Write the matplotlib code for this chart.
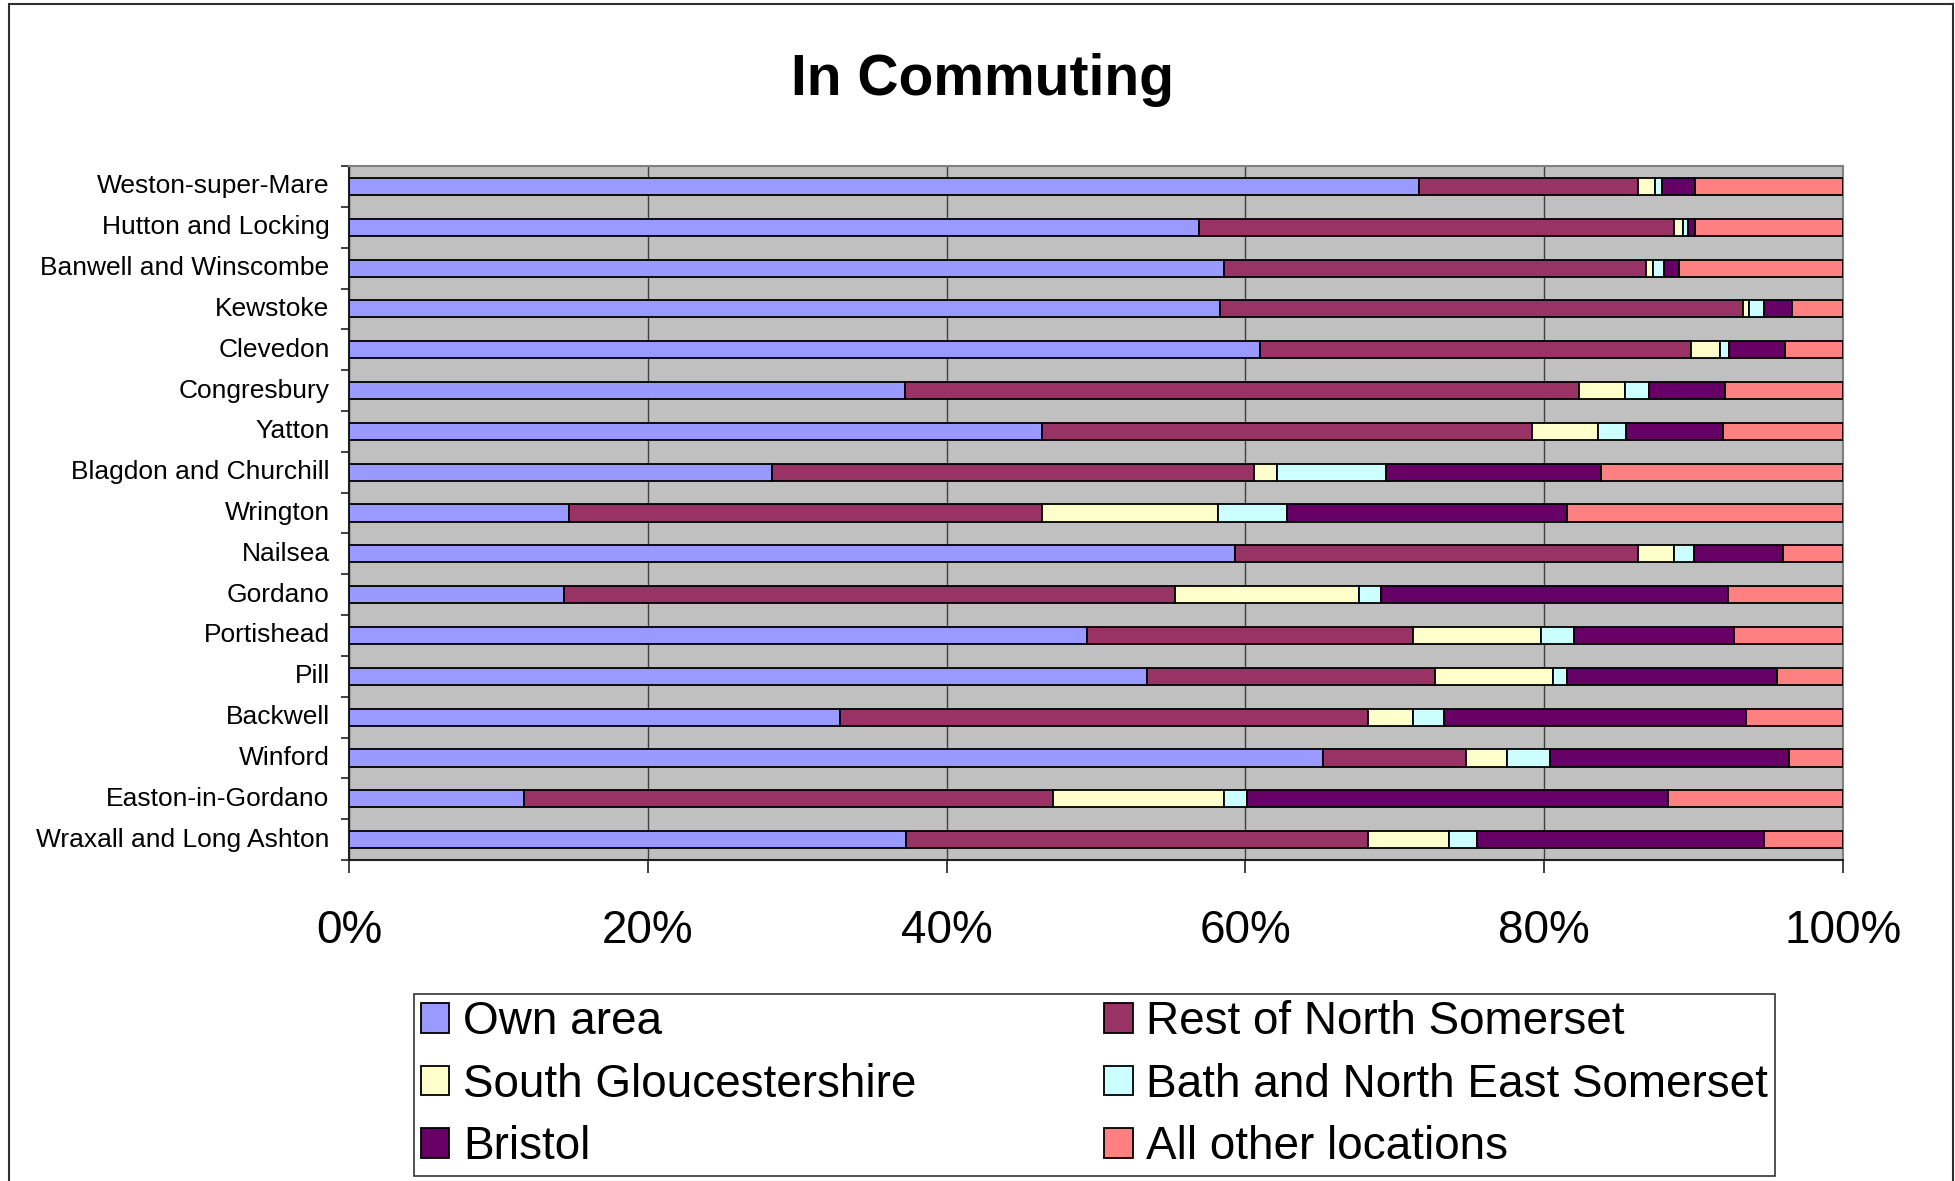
import matplotlib.pyplot as plt
from matplotlib.patches import Rectangle
from matplotlib.ticker import PercentFormatter
import numpy as np

plt.rcParams['font.family'] = ['Liberation Sans', 'DejaVu Sans']

# areas, top to bottom as in the chart
areas = ['Weston-super-Mare', 'Hutton and Locking', 'Banwell and Winscombe', 'Kewstoke',
         'Clevedon', 'Congresbury', 'Yatton', 'Blagdon and Churchill', 'Wrington', 'Nailsea',
         'Gordano', 'Portishead', 'Pill', 'Backwell', 'Winford', 'Easton-in-Gordano',
         'Wraxall and Long Ashton']

# share of in-commuters (%) by origin
own_area = [71.6, 56.9, 58.6, 58.3, 61.0, 37.2, 46.4, 28.3, 14.7, 59.3, 14.4, 49.4, 53.4, 32.9, 65.2, 11.7, 37.3]
rest_ns = [14.7, 31.8, 28.2, 35.0, 28.8, 45.1, 32.8, 32.3, 31.7, 27.0, 40.9, 21.8, 19.3, 35.3, 9.6, 35.4, 30.9]
south_glos = [1.1, 0.6, 0.5, 0.4, 2.0, 3.1, 4.4, 1.5, 11.8, 2.4, 12.3, 8.6, 7.9, 3.0, 2.7, 11.5, 5.4]
banes = [0.5, 0.3, 0.7, 1.0, 0.6, 1.6, 1.9, 7.3, 4.6, 1.3, 1.5, 2.2, 0.9, 2.1, 2.9, 1.5, 1.9]
bristol = [2.2, 0.5, 1.0, 1.9, 3.7, 5.1, 6.5, 14.4, 18.7, 6.0, 23.2, 10.7, 14.1, 20.2, 16.0, 28.2, 19.2]
other = [9.9, 9.9, 11.0, 3.4, 3.9, 7.9, 8.0, 16.2, 18.5, 4.0, 7.7, 7.3, 4.4, 6.5, 3.6, 11.7, 5.3]

series = {
    'Own area': own_area,
    'Rest of North Somerset': rest_ns,
    'South Gloucestershire': south_glos,
    'Bath and North East Somerset': banes,
    'Bristol': bristol,
    'All other locations': other,
}
colors = ['#9999FF', '#993366', '#FFFFCC', '#CCFFFF', '#660066', '#FF8080']

fig = plt.figure(figsize=(19.55, 11.81), dpi=100)
ax = fig.add_axes([0.1785, 0.2718, 0.7642, 0.5876])
ax.set_facecolor('#C0C0C0')

y = np.arange(len(areas))
left = np.zeros(len(areas))
totals = np.sum([series[k] for k in series], axis=0)
handles = {}
for (name, vals), col in zip(series.items(), colors):
    shares = np.array(vals) / totals * 100
    bars = ax.barh(y, shares, left=left, height=0.42, color=col, edgecolor='black',
                   linewidth=1.3, label=name, zorder=3)
    handles[name] = bars
    left += shares

ax.set_xlim(0, 100)
ax.set_ylim(len(areas) - 0.5, -0.5)
ax.set_yticks(y)
ax.set_yticklabels(areas, fontsize=19, va='center')
ax.set_yticks(np.arange(len(areas) + 1) - 0.5, minor=True)
ax.tick_params(axis='y', which='major', length=0, pad=14)
ax.tick_params(axis='y', which='minor', length=6, width=1.2, color='#202020')

ax.set_xticks([0, 20, 40, 60, 80, 100])
ax.xaxis.set_major_formatter(PercentFormatter(decimals=0))
ax.tick_params(axis='x', labelsize=33, length=9, width=1.2, pad=26, color='#202020')
ax.grid(axis='x', color='#404040', linewidth=1, zorder=1)
ax.set_axisbelow(True)

for side in ['left', 'bottom']:
    ax.spines[side].set_color('#202020')
    ax.spines[side].set_linewidth(1.5)
for side in ['top', 'right']:
    ax.spines[side].set_color('#808080')
    ax.spines[side].set_linewidth(1.5)

fig.text(0.5025, 0.932, 'In Commuting', fontsize=41, fontweight='bold', ha='center', va='center')

# legend laid out row by row like the original
order = ['Own area', 'South Gloucestershire', 'Bristol',
         'Rest of North Somerset', 'Bath and North East Somerset', 'All other locations']
leg = fig.legend([handles[k] for k in order], order, ncol=2, loc='center',
                 bbox_to_anchor=(0.5598, 0.0815), fontsize=33, frameon=True, fancybox=False,
                 edgecolor='black', handlelength=0.62, handleheight=0.62, handletextpad=0.3,
                 columnspacing=4.1, labelspacing=0.4, borderpad=0.15, borderaxespad=0)
leg.get_frame().set_linewidth(1.2)

fig.patches.append(Rectangle((0.0046, -0.02), 0.9943, 1.0166, transform=fig.transFigure,
                             fill=False, edgecolor='#303030', linewidth=1.5))

fig.savefig('out.png', dpi=100)
